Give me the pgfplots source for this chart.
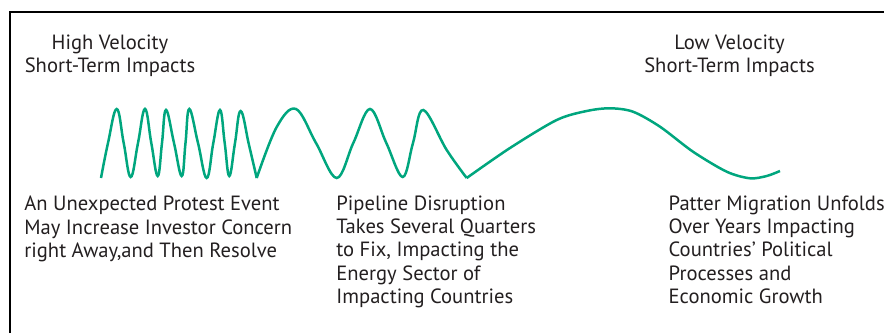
\documentclass[border=0pt]{standalone}
\usepackage{pgfplots}
\pgfplotsset{compat=1.18}
\usepackage{fontspec}
\setmainfont{PT Sans}
\definecolor{wave}{RGB}{0,166,126}
\definecolor{txt}{RGB}{35,31,32}
\begin{document}
\begin{tikzpicture}
\begin{axis}[
  scale only axis, width=442pt, height=166.5pt,
  xmin=0, xmax=884, ymin=0, ymax=333,
  hide axis, clip=false,
  y dir=reverse,
]
% frame
\addplot[black, line width=1pt] coordinates {(10,333) (10,12.5) (884,12.5)};
% fast waves
\addplot[wave, line width=1.25pt, smooth, tension=0.7] coordinates {
(101,178) (108,143) (116.7,109) (123.7,143) (130.7,177) (138,143) (145,109) (151.3,143)
(157.7,176) (162,143) (166,110) (174,143) (181.7,176) (185.5,143) (189.3,109) (198,143)
(206.7,178) (213.3,143) (220,110) (224.7,143) (229.3,176) (235,143) (240.7,111) (249,145) (256.7,178)};
% medium waves
\addplot[wave, line width=1.25pt, smooth, tension=0.6] coordinates {
(256.7,178) (276.7,127) (296,109) (316,143) (336.7,178) (353.3,143) (370,109) (386.3,143)
(402.7,177) (413,143) (423.3,110) (446.7,150) (466.7,178)};
% slow wave
\addplot[wave, line width=1.25pt, smooth, tension=0.5] coordinates {
(466.7,178) (510,148) (556.7,120) (586.7,111) (610,108.3) (633,111.7) (660,126.7)
(693,151.7) (726.7,171.7) (750,178.3) (766.7,176) (780,171)};
\begin{scope}[every node/.style={inner sep=0, text=txt, font=\fontsize{10.3pt}{12pt}\selectfont}]
\node[anchor=base] at (axis cs:110,49.3) {High Velocity};
\node[anchor=base] at (axis cs:110,72.7) {Short-Term Impacts};
\node[anchor=base] at (axis cs:729.5,49.3) {Low Velocity};
\node[anchor=base] at (axis cs:729.5,72.7) {Short-Term Impacts};
\node[anchor=base west] at (axis cs:24,210.7) {An Unexpected Protest Event};
\node[anchor=base west] at (axis cs:24,234) {May Increase Investor Concern};
\node[anchor=base west] at (axis cs:24,257.3) {right Away,and Then Resolve};
\node[anchor=base west] at (axis cs:336,210) {Pipeline Disruption};
\node[anchor=base west] at (axis cs:336,233.3) {Takes Several Quarters};
\node[anchor=base west] at (axis cs:336,256.7) {to Fix, Impacting the};
\node[anchor=base west] at (axis cs:336,280) {Energy Sector of};
\node[anchor=base west] at (axis cs:336,303.3) {Impacting Countries};
\node[anchor=base west] at (axis cs:668.3,210) {Patter Migration Unfolds};
\node[anchor=base west] at (axis cs:668.3,233.3) {Over Years Impacting};
\node[anchor=base west] at (axis cs:668.3,256.7) {Countries’ Political};
\node[anchor=base west] at (axis cs:668.3,280) {Processes and};
\node[anchor=base west] at (axis cs:668.3,303.3) {Economic Growth};
\end{scope}
\end{axis}
\pgfresetboundingbox
\path[use as bounding box] (0,0) rectangle (442pt,166.5pt);
\end{tikzpicture}
\end{document}
